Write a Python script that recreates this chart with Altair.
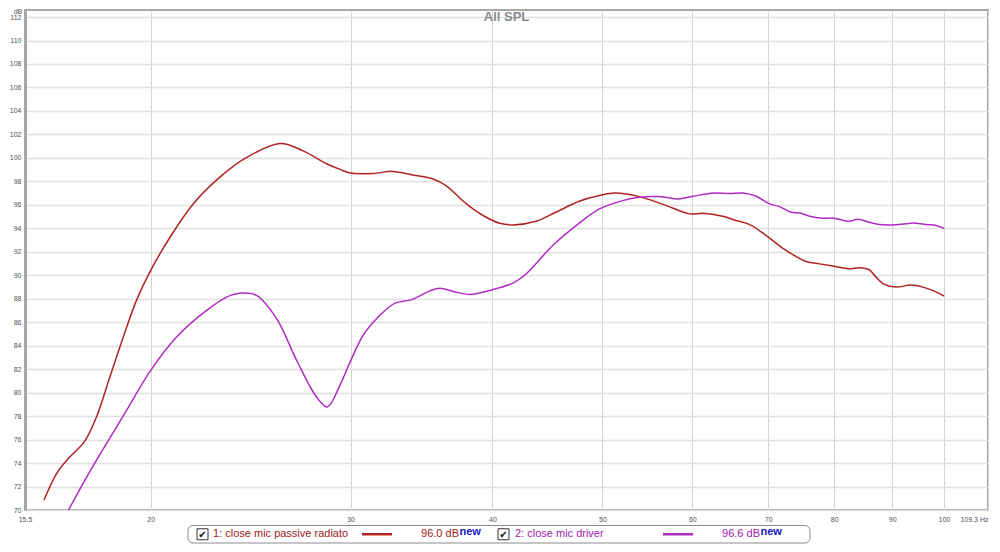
import altair as alt
import pandas as pd

# ---------------- data ----------------
red_freq = [16.11, 16.53, 16.93, 17.48, 17.92, 18.41, 18.92, 19.44, 20.0, 20.8,
            21.8, 23.0, 24.3, 26.0, 27.25, 28.6, 29.4, 30.0, 31.4, 32.7,
            34.05, 35.46, 36.4, 37.95, 39.25, 40.6, 41.7, 43.7, 45.5, 47.7,
            49.7, 51.3, 53.9, 56.7, 59.7, 61.3, 63.8, 65.6, 67.4, 69.9,
            72.1, 75.6, 77.65, 80.0, 82.5, 84.2, 85.9, 87.1, 88.6, 90.7,
            93.5, 95.8, 97.7, 100.0]
red_db = [70.85, 73.12, 74.4, 75.8, 77.93, 81.33, 84.74, 87.9, 90.41, 93.24,
          96.08, 98.34, 100.04, 101.23, 100.6, 99.48, 99.0, 98.71, 98.68, 98.85,
          98.54, 98.2, 97.64, 96.08, 95.09, 94.43, 94.29, 94.6, 95.37, 96.3,
          96.79, 97.0, 96.7, 96.0, 95.23, 95.28, 95.03, 94.66, 94.32, 93.3,
          92.3, 91.17, 90.97, 90.77, 90.55, 90.64, 90.47, 89.84, 89.22, 88.99,
          89.16, 88.99, 88.71, 88.22]

pur_freq = [16.93, 17.57, 18.29, 19.05, 20.0, 21.08, 22.4, 23.33, 24.04, 24.79,
            25.82, 26.89, 28.0, 28.62, 29.35, 30.0, 30.77, 31.7, 32.8, 33.9,
            35.2, 35.95, 37.0, 38.2, 40.0, 41.7, 42.85, 45.2, 47.4, 49.7,
            52.1, 53.9, 55.8, 57.2, 58.1, 60.1, 62.6, 64.7, 66.5, 68.3,
            70.2, 71.6, 73.3, 74.6, 76.1, 78.2, 80.0, 82.5, 83.9, 85.9,
            87.7, 90.1, 92.6, 93.8, 96.4, 98.0, 100.0]
pur_db = [70.0, 72.83, 75.67, 78.5, 81.9, 84.74, 87.0, 88.14, 88.48, 88.28,
          86.3, 82.76, 79.63, 78.78, 80.6, 82.7, 84.88, 86.4, 87.6, 87.9,
          88.65, 88.9, 88.6, 88.37, 88.77, 89.33, 90.13, 92.53, 94.23, 95.65,
          96.36, 96.64, 96.7, 96.6, 96.5, 96.73, 97.0, 96.96, 97.0, 96.73,
          96.08, 95.85, 95.37, 95.31, 95.03, 94.86, 94.86, 94.6, 94.77, 94.52,
          94.32, 94.29, 94.38, 94.46, 94.32, 94.29, 94.0]

series_names = ["1: close mic passive radiato", "2: close mic driver"]
series_levels = ["96.0 dB", "96.6 dB"]
line_colors = ["#b22222", "#b02bc4"]
text_colors = ["#9e1a1a", "#a020b0"]

x_ticks = [15.5, 20, 30, 40, 50, 60, 70, 80, 90, 100, 109.3]
y_ticks = list(range(70, 113, 2))
title_text = "All SPL"
unit_text = "dB"

# ---------------- layout ----------------
W, H = 963, 500
FONT = "Liberation Sans"

df = pd.concat([
    pd.DataFrame({"f": red_freq, "db": red_db, "s": series_names[0], "o": range(len(red_freq))}),
    pd.DataFrame({"f": pur_freq, "db": pur_db, "s": series_names[1], "o": range(len(pur_freq))}),
])

xscale = alt.Scale(type="log", domain=[15.5, 109.3], nice=False)
yscale = alt.Scale(domain=[70, 112.6], nice=False, zero=False)

x_axis = alt.Axis(
    values=x_ticks, title=None, grid=True, gridColor="#d4d4d4", gridWidth=1,
    ticks=False, domain=False, labelFontSize=7, labelColor="#505050", labelFont=FONT,
    labelPadding=5, labelOverlap=False,
    labelExpr="datum.value > 109 ? '109.3 Hz' : format(datum.value, '~g')",
    labelAlign={"condition": {"test": "datum.value > 109", "value": "right"}, "value": "center"},
)
y_axis = alt.Axis(
    values=y_ticks, title=None, grid=True, gridColor="#e0e0e0", gridWidth=1.3,
    ticks=False, domain=True, domainColor="#a6a6a6", domainWidth=3,
    labelFontSize=7, labelColor="#505050", labelFont=FONT, labelPadding=4,
    labelOverlap=False,
)

lines = alt.Chart(df).mark_line(interpolate="catmull-rom", strokeWidth=1.5).encode(
    x=alt.X("f:Q", scale=xscale, axis=x_axis),
    y=alt.Y("db:Q", scale=yscale, axis=y_axis),
    color=alt.Color("s:N", scale=alt.Scale(domain=series_names, range=line_colors), legend=None),
    order="o:Q",
)

one = pd.DataFrame({"k": [0]})

title = alt.Chart(pd.DataFrame({"t": [title_text]})).mark_text(
    font=FONT, fontSize=13, fontWeight="bold", color="#8a8a8a", baseline="middle", align="center"
).encode(x=alt.value(W / 2), y=alt.value(7), text="t:N")

unit = alt.Chart(pd.DataFrame({"t": [unit_text]})).mark_text(
    font=FONT, fontSize=7, color="#505050", baseline="top", align="center"
).encode(x=alt.value(-7), y=alt.value(-2), text="t:N")

# legend box
LY0, LY1 = 515.5, 533
LC = (LY0 + LY1) / 2
box = alt.Chart(one).mark_rect(cornerRadius=5, fill="white", stroke="#8c8c8c", strokeWidth=1).encode(
    x=alt.value(163), x2=alt.value(785), y=alt.value(LY0), y2=alt.value(LY1)
)

legend_layers = [box]
item_x = [(172, 188, 337, 367, 434), (473, 490, 638, 668, 735)]
for i, (cx, tx, lx0, lx1, vx) in enumerate(item_x):
    legend_layers.append(
        alt.Chart(one).mark_rect(fill="white", stroke="#333", strokeWidth=1).encode(
            x=alt.value(cx), x2=alt.value(cx + 11), y=alt.value(LC - 5.5), y2=alt.value(LC + 5.5)
        )
    )
    legend_layers.append(
        alt.Chart(pd.DataFrame({"t": ["✔"]})).mark_text(
            font="DejaVu Sans", fontSize=10, color="#111", align="center", baseline="middle"
        ).encode(x=alt.value(cx + 5.5), y=alt.value(LC + 0.5), text="t:N")
    )
    legend_layers.append(
        alt.Chart(pd.DataFrame({"t": [series_names[i]]})).mark_text(
            font=FONT, fontSize=11, color=text_colors[i], align="left", baseline="middle"
        ).encode(x=alt.value(tx), y=alt.value(LC), text="t:N")
    )
    legend_layers.append(
        alt.Chart(one).mark_rule(color=line_colors[i], strokeWidth=2.5).encode(
            x=alt.value(lx0), x2=alt.value(lx1), y=alt.value(LC)
        )
    )
    legend_layers.append(
        alt.Chart(pd.DataFrame({"t": [series_levels[i]]})).mark_text(
            font=FONT, fontSize=11, color=text_colors[i], align="right", baseline="middle"
        ).encode(x=alt.value(vx), y=alt.value(LC), text="t:N")
    )
    legend_layers.append(
        alt.Chart(pd.DataFrame({"t": ["new"]})).mark_text(
            font=FONT, fontSize=11, fontWeight="bold", color="#1414c8", align="left", baseline="middle"
        ).encode(x=alt.value(vx + 0.5), y=alt.value(LC - 2.5), text="t:N")
    )

chart = alt.layer(lines, title, unit, *legend_layers).properties(
    width=W, height=H,
    padding={"left": 17, "top": 2, "right": 4, "bottom": 34},
    autosize=alt.AutoSizeParams(type="none"),
    background="white",
).configure_view(stroke="#a8a8a8", strokeWidth=2)

chart.save("out.html", embed_options={"renderer": "svg", "actions": False})
